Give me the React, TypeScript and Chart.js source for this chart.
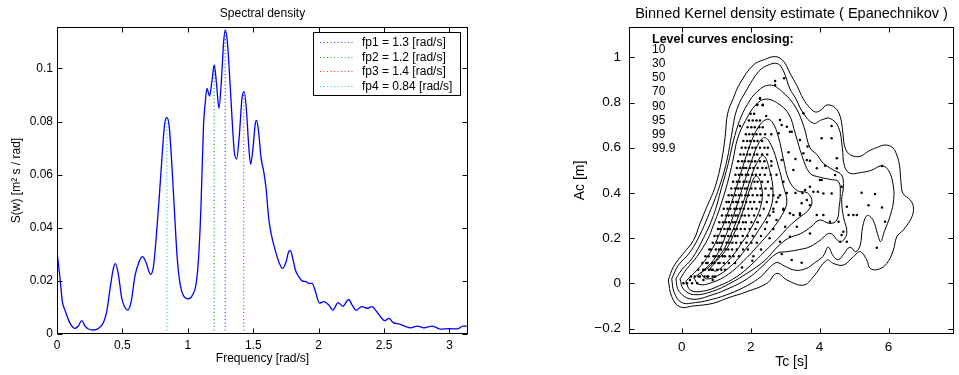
import React, { useEffect, useRef } from 'react';
import { Chart, registerables } from 'chart.js';

Chart.register(...registerables);

const FONT = "'Liberation Sans', Arial, Helvetica, sans-serif";

// ---------------- Left panel: spectral density ----------------
const freq = [
  0, 0.023, 0.041, 0.061, 0.1, 0.138, 0.163, 0.189, 0.214, 0.24, 0.278, 0.316, 0.355, 0.38, 0.406, 0.431, 0.447,
  0.47, 0.495, 0.521, 0.541, 0.567, 0.597, 0.628, 0.653, 0.679, 0.715, 0.737, 0.758, 0.781, 0.802, 0.822, 0.84,
  0.858, 0.878, 0.898, 0.919, 0.942, 0.967, 1.005, 1.036, 1.062, 1.082, 1.1, 1.12, 1.133, 1.146, 1.166, 1.184,
  1.202, 1.22, 1.238, 1.256, 1.274, 1.286, 1.302, 1.319, 1.338, 1.355, 1.373, 1.394, 1.414, 1.43, 1.447, 1.465,
  1.48, 1.498, 1.516, 1.526, 1.541, 1.56, 1.58, 1.598, 1.618, 1.639, 1.664, 1.695, 1.725, 1.751, 1.771, 1.784,
  1.802, 1.822, 1.848, 1.873, 1.904, 1.924, 1.95, 1.976, 2.006, 2.039, 2.078, 2.108, 2.149, 2.185, 2.23, 2.256,
  2.287, 2.328, 2.371, 2.41, 2.435, 2.473, 2.506, 2.537, 2.57, 2.619, 2.665, 2.703, 2.754, 2.805, 2.869, 2.933,
  2.996, 3.06, 3.104, 3.1416,
];
const sDensity = [
  0.031, 0.021, 0.0122, 0.009, 0.004, 0.0021, 0.003, 0.005, 0.003, 0.0019, 0.0015, 0.0021, 0.0043, 0.0084, 0.0172, 0.0247, 0.0265,
  0.0222, 0.0134, 0.0099, 0.009, 0.0122, 0.0222, 0.0272, 0.0291, 0.0272, 0.0225, 0.0253, 0.036, 0.051, 0.0662, 0.0787, 0.0816,
  0.078, 0.0637, 0.046, 0.0285, 0.0185, 0.0144, 0.0132, 0.0147, 0.0185, 0.0285, 0.0473, 0.0787, 0.087, 0.0925, 0.0896, 0.095,
  0.1013, 0.0938, 0.085, 0.095, 0.1101, 0.1145, 0.1101, 0.0976, 0.0812, 0.0687, 0.0659, 0.075, 0.0888, 0.0913, 0.085, 0.0712,
  0.0639, 0.07, 0.0794, 0.0804, 0.0762, 0.0662, 0.0612, 0.0549, 0.0436, 0.0373, 0.0323, 0.0272, 0.0247, 0.0272, 0.031, 0.0314,
  0.0285, 0.0241, 0.0216, 0.02, 0.0197, 0.0191, 0.0191, 0.0159, 0.0116, 0.0122, 0.0109, 0.009, 0.0118, 0.0105, 0.013, 0.0109,
  0.009, 0.0103, 0.0097, 0.0103, 0.009, 0.0065, 0.005, 0.0059, 0.0043, 0.0037, 0.0028, 0.0023, 0.003, 0.0023, 0.003, 0.0018,
  0.002, 0.0019, 0.003, 0.003,
];
const fpLabels = ['fp1 = 1.3 [rad/s]', 'fp2 = 1.2 [rad/s]', 'fp3 = 1.4 [rad/s]', 'fp4 = 0.84 [rad/s]'];
const fpFreq = [1.286, 1.202, 1.427, 0.84];
const fpPeak = [0.1145, 0.1013, 0.091, 0.0816];
const fpColors = ['#3a3aff', '#2a9a2a', '#ff3030', '#20c8c8'];

// ---------------- Right panel: kernel density contours ----------------
const levelLabels = ['10', '30', '50', '70', '90', '95', '99', '99.9'];

const c999: [number, number][] = [
  [-0.39, 0.015], [-0.29, -0.059], [-0.05, -0.104], [0.34, -0.1], [0.92, -0.088], [1.31, -0.066], [1.89, -0.037],
  [2.47, 0.0], [2.76, 0.044], [3.05, 0.015], [3.53, -0.008], [3.82, 0.029], [4.21, 0.103], [4.4, 0.088], [4.69, 0.081],
  [4.98, 0.118], [5.18, 0.14], [5.37, 0.103], [5.47, 0.066], [5.71, 0.062], [5.95, 0.088], [6.14, 0.147], [6.24, 0.206],
  [6.43, 0.236], [6.68, 0.295], [6.72, 0.339], [6.63, 0.369], [6.42, 0.398], [6.36, 0.45], [6.32, 0.52], [6.24, 0.568],
  [6.12, 0.6], [5.9, 0.612], [5.65, 0.6], [5.42, 0.585], [5.18, 0.562], [4.9, 0.568], [4.74, 0.6], [4.68, 0.66],
  [4.6, 0.737], [4.45, 0.777], [4.21, 0.789], [4.05, 0.768], [3.88, 0.758], [3.7, 0.78], [3.53, 0.815], [3.34, 0.875],
  [3.14, 0.93], [2.95, 0.983], [2.72, 1.003], [2.4, 0.99], [2.08, 0.966], [1.69, 0.885], [1.5, 0.82], [1.33, 0.75],
  [1.26, 0.649], [1.16, 0.546], [0.97, 0.427], [0.73, 0.339], [0.53, 0.265], [0.34, 0.19], [0.05, 0.133],
  [-0.24, 0.073], [-0.39, 0.015],
];
const c99: [number, number][] = [
  [-0.29, 0.02], [-0.22, -0.04], [0.0, -0.085], [0.4, -0.085], [0.9, -0.07], [1.4, -0.045], [1.9, -0.01], [2.3, 0.03],
  [2.55, 0.07], [2.76, 0.092], [3.0, 0.075], [3.3, 0.058], [3.6, 0.065], [3.85, 0.09], [4.1, 0.12], [4.25, 0.16],
  [4.4, 0.12], [4.55, 0.105], [4.7, 0.13], [4.88, 0.16], [5.05, 0.14], [5.18, 0.17], [5.25, 0.25], [5.38, 0.3],
  [5.55, 0.28], [5.68, 0.22], [5.77, 0.185], [5.88, 0.23], [6.05, 0.3], [6.15, 0.37], [6.13, 0.44], [6.0, 0.5],
  [5.8, 0.52], [5.5, 0.5], [5.18, 0.49], [4.88, 0.487], [4.72, 0.52], [4.66, 0.6], [4.55, 0.69], [4.3, 0.73],
  [4.06, 0.723], [3.82, 0.708], [3.53, 0.752], [3.3, 0.82], [3.14, 0.86], [2.95, 0.94], [2.78, 0.972], [2.5, 0.965],
  [2.25, 0.94], [1.9, 0.86], [1.6, 0.77], [1.45, 0.66], [1.32, 0.55], [1.12, 0.44], [0.8, 0.31], [0.48, 0.2],
  [0.2, 0.13], [-0.1, 0.08], [-0.29, 0.02],
];
const c95: [number, number][] = [
  [-0.17, 0.02], [-0.08, -0.035], [0.3, -0.07], [0.9, -0.05], [1.4, -0.02], [1.9, 0.02], [2.3, 0.07], [2.76, 0.133],
  [3.05, 0.14], [3.43, 0.15], [3.72, 0.162], [4.01, 0.19], [4.3, 0.221], [4.6, 0.184], [4.79, 0.221], [4.69, 0.295],
  [4.64, 0.369], [4.69, 0.427], [4.64, 0.479], [4.4, 0.501], [4.11, 0.531], [3.92, 0.57], [3.72, 0.6], [3.55, 0.69],
  [3.3, 0.78], [2.9, 0.85], [2.56, 0.877], [2.2, 0.85], [1.9, 0.79], [1.68, 0.72], [1.5, 0.63], [1.35, 0.53],
  [1.15, 0.42], [0.92, 0.3], [0.63, 0.2], [0.3, 0.11], [0.0, 0.06], [-0.17, 0.02],
];
const c90: [number, number][] = [
  [-0.05, 0.02], [0.05, -0.025], [0.35, -0.05], [0.9, -0.035], [1.4, 0.0], [1.9, 0.045], [2.4, 0.1], [2.8, 0.165],
  [3.1, 0.2], [3.45, 0.22], [3.75, 0.25], [4.0, 0.28], [4.3, 0.265], [4.5, 0.28], [4.57, 0.34], [4.6, 0.4],
  [4.55, 0.45], [4.3, 0.46], [4.0, 0.47], [3.72, 0.487], [3.5, 0.56], [3.3, 0.66], [3.1, 0.75], [2.75, 0.8],
  [2.42, 0.815], [2.15, 0.79], [1.85, 0.72], [1.62, 0.64], [1.48, 0.54], [1.32, 0.44], [1.12, 0.34], [0.9, 0.25],
  [0.77, 0.2], [0.45, 0.12], [0.15, 0.065], [-0.05, 0.02],
];
const c70: [number, number][] = [
  [0.12, 0.01], [0.25, -0.03], [0.6, -0.035], [1.1, -0.01], [1.6, 0.03], [2.0, 0.08], [2.4, 0.14], [2.8, 0.2],
  [3.1, 0.25], [3.4, 0.29], [3.65, 0.32], [3.78, 0.36], [3.65, 0.4], [3.35, 0.41], [3.1, 0.46], [2.95, 0.55],
  [2.8, 0.65], [2.62, 0.715], [2.45, 0.725], [2.22, 0.69], [2.0, 0.62], [1.8, 0.53], [1.6, 0.43], [1.38, 0.33],
  [1.1, 0.22], [0.8, 0.13], [0.45, 0.06], [0.12, 0.01],
];
const c50: [number, number][] = [
  [0.35, 0.025], [0.5, -0.005], [0.9, 0.005], [1.35, 0.04], [1.8, 0.1], [2.2, 0.165], [2.6, 0.235], [2.9, 0.3],
  [3.05, 0.36], [2.95, 0.43], [2.8, 0.52], [2.6, 0.61], [2.4, 0.645], [2.2, 0.61], [2.0, 0.53], [1.8, 0.44],
  [1.57, 0.33], [1.3, 0.22], [1.0, 0.12], [0.65, 0.06], [0.35, 0.025],
];
const c30: [number, number][] = [
  [0.55, 0.045], [0.72, 0.02], [1.05, 0.035], [1.45, 0.08], [1.85, 0.15], [2.25, 0.24], [2.55, 0.32], [2.65, 0.4],
  [2.55, 0.5], [2.37, 0.565], [2.17, 0.53], [1.97, 0.45], [1.77, 0.35], [1.52, 0.25], [1.22, 0.15], [0.88, 0.085],
  [0.55, 0.045],
];
const c10: [number, number][] = [
  [0.82, 0.065], [1.0, 0.055], [1.35, 0.1], [1.75, 0.18], [2.1, 0.27], [2.32, 0.36], [2.3, 0.44], [2.15, 0.475],
  [1.98, 0.42], [1.8, 0.33], [1.56, 0.235], [1.27, 0.145], [0.98, 0.095], [0.82, 0.065],
];
const contours = [c999, c99, c95, c90, c70, c50, c30, c10];

// observed (Tc, Ac) points: rows of Tc values at each Ac level in the dense core
const dotRows: [number, number[]][] = [
  [0.0, [0.05, 0.15, 0.3, 0.45]],
  [0.015, [0.24, 0.63, 0.9]],
  [0.03, [0.27, 0.38, 0.49, 0.53, 0.66, 0.74, 0.77, 0.9, 0.97]],
  [0.06, [0.48, 0.62, 0.67, 0.79, 0.86, 0.9, 1.03, 1.15, 1.26]],
  [0.09, [0.6, 0.71, 0.75, 0.88, 0.95, 1.06, 1.1, 1.22, 1.37, 1.55]],
  [0.12, [0.69, 0.78, 0.92, 0.98, 1.07, 1.19, 1.25, 1.39, 1.5, 1.66, 2.08]],
  [0.15, [0.8, 0.85, 0.99, 1.08, 1.14, 1.27, 1.35, 1.46, 1.6, 1.78, 1.92]],
  [0.18, [0.9, 1.03, 1.1, 1.17, 1.3, 1.38, 1.47, 1.58, 1.72, 1.88, 2.02, 2.18]],
  [0.21, [0.95, 1.04, 1.16, 1.22, 1.35, 1.43, 1.55, 1.62, 1.77, 1.91, 2.06, 2.3]],
  [0.24, [1.05, 1.12, 1.24, 1.33, 1.4, 1.52, 1.6, 1.71, 1.83, 1.97, 2.14, 2.42, 2.66]],
  [0.27, [1.09, 1.2, 1.28, 1.37, 1.48, 1.55, 1.66, 1.78, 1.86, 2.02, 2.2, 2.47]],
  [0.3, [1.17, 1.29, 1.36, 1.45, 1.56, 1.62, 1.74, 1.83, 1.95, 2.1, 2.27, 2.55]],
  [0.33, [1.22, 1.33, 1.41, 1.53, 1.6, 1.69, 1.8, 1.93, 2.04, 2.17, 2.38, 2.66, 2.95]],
  [0.36, [1.3, 1.37, 1.49, 1.58, 1.64, 1.76, 1.87, 1.99, 2.1, 2.26, 2.47, 2.75]],
  [0.39, [1.36, 1.45, 1.56, 1.66, 1.73, 1.85, 1.94, 2.06, 2.19, 2.3, 2.52, 2.66, 2.85]],
  [0.42, [1.44, 1.55, 1.63, 1.71, 1.83, 1.9, 2.02, 2.14, 2.28, 2.43, 2.6]],
  [0.45, [1.49, 1.6, 1.68, 1.79, 1.88, 1.97, 2.11, 2.2, 2.33, 2.5]],
  [0.48, [1.56, 1.66, 1.75, 1.86, 1.93, 2.05, 2.15, 2.27, 2.41, 2.58]],
  [0.51, [1.6, 1.7, 1.8, 1.87, 1.98, 2.08, 2.2, 2.34, 2.45]],
  [0.54, [1.64, 1.75, 1.83, 1.94, 2.03, 2.13, 2.27, 2.4, 2.6]],
  [0.57, [1.7, 1.8, 1.9, 1.98, 2.1, 2.19, 2.33, 2.48]],
  [0.6, [1.74, 1.85, 1.95, 2.05, 2.14, 2.27, 2.4]],
  [0.63, [1.79, 1.9, 1.99, 2.1, 2.2, 2.33]],
  [0.66, [1.86, 1.96, 2.06, 2.17, 2.28, 2.42]],
  [0.69, [1.91, 2.02, 2.12, 2.25, 2.35]],
  [0.72, [1.95, 2.06, 2.17, 2.27]],
  [0.75, [2.0, 2.1]],
  [0.79, [2.19, 2.35]],
  [0.82, [2.27]],
];
// sparse outlying (Tc, Ac) points
const sparseDots: [number, number][] = [
  [2.71, 0.895], [2.97, 0.907], [2.27, 0.817], [2.19, 0.789], [2.35, 0.788], [1.69, 0.696], [2.9, 0.7], [3.05, 0.693],
  [3.14, 0.671], [2.81, 0.664], [3.53, 0.752], [4.35, 0.696], [4.06, 0.642], [4.35, 0.642], [3.43, 0.634], [3.65, 0.605],
  [3.72, 0.542], [4.16, 0.52], [4.5, 0.553], [4.45, 0.479], [5.81, 0.519], [4.06, 0.457], [2.71, 0.877], [3.53, 0.575],
  [3.63, 0.546], [3.19, 0.671], [2.85, 0.723], [2.9, 0.546], [3.24, 0.501], [3.72, 0.427], [3.48, 0.354], [3.63, 0.369],
  [3.92, 0.509], [4.5, 0.509], [5.22, 0.401], [5.61, 0.395], [5.42, 0.346], [5.81, 0.336], [5.9, 0.273], [5.08, 0.302],
  [4.84, 0.302], [4.69, 0.228], [4.6, 0.184], [4.79, 0.184], [5.66, 0.158], [4.3, 0.273], [4.55, 0.273], [4.11, 0.398],
  [4.35, 0.398], [4.64, 0.427], [4.01, 0.457], [3.58, 0.413], [3.72, 0.346], [3.92, 0.302], [4.11, 0.302], [3.43, 0.302],
  [3.24, 0.302], [3.0, 0.25], [3.34, 0.25], [3.72, 0.221], [3.14, 0.206], [2.85, 0.184], [3.19, 0.103], [3.48, 0.091],
  [3.82, 0.405], [3.95, 0.405], [4.79, 0.339], [4.98, 0.302], [4.64, 0.214], [3.14, 0.31], [3.43, 0.31], [2.95, 0.324],
  [2.66, 0.317], [3.05, 0.4], [3.3, 0.4], [3.5, 0.4], [2.6, 0.52], [2.75, 0.48], [2.95, 0.45], [3.1, 0.58], [2.5, 0.6],
  [2.6, 0.66], [2.45, 0.74], [3.3, 0.55], [2.8, 0.38], [2.75, 0.28], [2.55, 0.2], [2.3, 0.15], [2.05, 0.1], [1.75, 0.07],
  [2.9, 0.13],
];

const fmt = (v: number) => String(Math.round(v * 10000) / 10000).replace('-', '\u2212');

function makeFrame(title: string, titleSize: number, titleY: number, extra?: (ctx: CanvasRenderingContext2D) => void) {
  return {
    id: 'frame',
    afterDraw(chart: any) {
      const { ctx, chartArea: a, scales } = chart;
      const L = Math.round(a.left) + 0.5;
      const R = Math.round(a.right) - 0.5;
      const T = Math.round(a.top) + 0.5;
      const B = Math.round(a.bottom) - 0.5;
      const tl = 5;
      ctx.save();
      ctx.strokeStyle = '#000';
      ctx.lineWidth = 1;
      ctx.setLineDash([]);
      ctx.beginPath();
      for (const t of scales.x.ticks) {
        const p = Math.round(scales.x.getPixelForValue(t.value)) + 0.5;
        ctx.moveTo(p, B); ctx.lineTo(p, B - tl);
        ctx.moveTo(p, T); ctx.lineTo(p, T + tl);
      }
      for (const t of scales.y.ticks) {
        const p = Math.round(scales.y.getPixelForValue(t.value)) + 0.5;
        ctx.moveTo(L, p); ctx.lineTo(L + tl, p);
        ctx.moveTo(R, p); ctx.lineTo(R - tl, p);
      }
      ctx.stroke();
      ctx.strokeRect(L, T, R - L, B - T);
      ctx.fillStyle = '#000';
      ctx.font = `${titleSize}px ${FONT}`;
      ctx.textAlign = 'center';
      ctx.textBaseline = 'middle';
      ctx.fillText(title, (a.left + a.right) / 2, titleY);
      if (extra) extra(ctx);
      ctx.restore();
    },
  };
}

const legendDraw = (ctx: CanvasRenderingContext2D) => {
  const x0 = 313.5, y0 = 32.5, w = 147, h = 63;
  ctx.fillStyle = '#fff';
  ctx.fillRect(x0, y0, w, h);
  ctx.strokeStyle = '#000';
  ctx.lineWidth = 1;
  ctx.strokeRect(x0, y0, w, h);
  fpLabels.forEach((lab, i) => {
    const y = Math.round(42.3 + 14.55 * i) + 0.5;
    ctx.strokeStyle = fpColors[i];
    ctx.lineWidth = 1.2;
    ctx.setLineDash([1, 2.5]);
    ctx.beginPath();
    ctx.moveTo(320, y);
    ctx.lineTo(353, y);
    ctx.stroke();
    ctx.setLineDash([]);
    ctx.fillStyle = '#000';
    ctx.font = `12px ${FONT}`;
    ctx.textAlign = 'left';
    ctx.textBaseline = 'middle';
    ctx.fillText(lab, 362, y);
  });
};

const levelDraw = (ctx: CanvasRenderingContext2D) => {
  ctx.fillStyle = '#000';
  ctx.textAlign = 'left';
  ctx.textBaseline = 'middle';
  ctx.font = `bold 12.5px ${FONT}`;
  ctx.fillText('Level curves enclosing:', 172, 40);
  ctx.font = `12px ${FONT}`;
  levelLabels.forEach((s, i) => ctx.fillText(s, 172, 50 + 14.05 * i));
};

export default function App() {
  const leftRef = useRef<HTMLCanvasElement>(null);
  const rightRef = useRef<HTMLCanvasElement>(null);

  useEffect(() => {
    Chart.defaults.font.family = FONT;
    Chart.defaults.color = '#000';

    const left = new Chart(leftRef.current as HTMLCanvasElement, {
      type: 'scatter',
      data: {
        datasets: [
          {
            label: 'S(w)',
            data: freq.map((x, i) => ({ x, y: sDensity[i] })),
            showLine: true,
            borderColor: '#0000ff',
            borderWidth: 1.3,
            pointRadius: 0,
            cubicInterpolationMode: 'monotone',
          } as any,
          ...fpFreq.map((f, i) => ({
            label: fpLabels[i],
            data: [{ x: f, y: 0 }, { x: f, y: fpPeak[i] }],
            showLine: true,
            borderColor: fpColors[i],
            borderWidth: 1.2,
            borderDash: [1, 2.5],
            pointRadius: 0,
          })),
        ],
      },
      options: {
        responsive: false,
        animation: false,
        devicePixelRatio: 1,
        events: [],
        layout: { padding: { top: 27, right: 12, left: 0, bottom: 0 } },
        plugins: { legend: { display: false }, tooltip: { enabled: false }, title: { display: false } },
        scales: {
          x: {
            type: 'linear',
            min: 0,
            max: Math.PI,
            grid: { display: false, drawTicks: false },
            border: { display: false },
            ticks: { stepSize: 0.5, includeBounds: false, padding: 4, font: { size: 12 }, color: '#000', maxRotation: 0, autoSkip: false, callback: (v: any) => fmt(Number(v)) },
            title: { display: true, text: 'Frequency [rad/s]', font: { size: 12 }, color: '#000', padding: { top: 0, bottom: 9 } },
            afterFit: (s: any) => { s.height = 41; },
          },
          y: {
            type: 'linear',
            min: 0,
            max: 0.1156,
            grid: { display: false, drawTicks: false },
            border: { display: false },
            ticks: { stepSize: 0.02, includeBounds: false, padding: 4, font: { size: 12 }, color: '#000', autoSkip: false, callback: (v: any) => fmt(Number(v)) },
            title: { display: true, text: 'S(w) [m\u00b2 s / rad]', font: { size: 12 }, color: '#000', padding: { top: 9.5, bottom: 0 } },
            afterFit: (s: any) => { s.width = 57; },
          },
        },
      } as any,
      plugins: [makeFrame('Spectral density', 12, 14, legendDraw)],
    });

    const dotData = [
      ...dotRows.flatMap(([ac, tcs]) => tcs.map((tc) => ({ x: tc, y: ac }))),
      ...sparseDots.map(([x, y]) => ({ x, y })),
    ];

    const right = new Chart(rightRef.current as HTMLCanvasElement, {
      type: 'scatter',
      data: {
        datasets: [
          ...contours.map((c, i) => ({
            label: levelLabels[levelLabels.length - 1 - i],
            data: c.map(([x, y]) => ({ x, y })),
            showLine: true,
            borderColor: '#000',
            borderWidth: 1,
            pointRadius: 0,
            tension: 0.4,
          })),
          {
            label: 'data',
            data: dotData,
            showLine: false,
            pointRadius: 1.25,
            pointBackgroundColor: '#000',
            pointBorderWidth: 0,
          },
        ],
      },
      options: {
        responsive: false,
        animation: false,
        devicePixelRatio: 1,
        events: [],
        layout: { padding: { top: 27, right: 5, left: 0, bottom: 0 } },
        plugins: { legend: { display: false }, tooltip: { enabled: false }, title: { display: false } },
        scales: {
          x: {
            type: 'linear',
            min: -1.53,
            max: 7.9,
            grid: { display: false, drawTicks: false },
            border: { display: false },
            ticks: { stepSize: 2, includeBounds: false, padding: 5, font: { size: 13.5 }, color: '#000', maxRotation: 0, autoSkip: false, callback: (v: any) => fmt(Number(v)) },
            title: { display: true, text: 'Tc [s]', font: { size: 14 }, color: '#000', padding: { top: 0, bottom: 4 } },
            afterFit: (s: any) => { s.height = 41; },
          },
          y: {
            type: 'linear',
            min: -0.224,
            max: 1.134,
            grid: { display: false, drawTicks: false },
            border: { display: false },
            ticks: { stepSize: 0.2, includeBounds: false, padding: 8, font: { size: 13.5 }, color: '#000', autoSkip: false, callback: (v: any) => fmt(Number(v)) },
            title: { display: true, text: 'Ac [m]', font: { size: 14 }, color: '#000', padding: { top: 92, bottom: 0 } },
            afterFit: (s: any) => { s.width = 149; },
          },
        },
      } as any,
      plugins: [makeFrame('Binned Kernel density estimate ( Epanechnikov )', 14.5, 13.5, levelDraw)],
    });

    return () => {
      left.destroy();
      right.destroy();
    };
  }, []);

  return (
    <div style={{ position: 'fixed', left: 0, top: 0, width: 959, height: 375, background: '#fff' }}>
      <canvas ref={leftRef} width={480} height={375} style={{ position: 'absolute', left: 0, top: 0, width: 480, height: 375 }} />
      <canvas ref={rightRef} width={479} height={375} style={{ position: 'absolute', left: 480, top: 0, width: 479, height: 375 }} />
    </div>
  );
}
